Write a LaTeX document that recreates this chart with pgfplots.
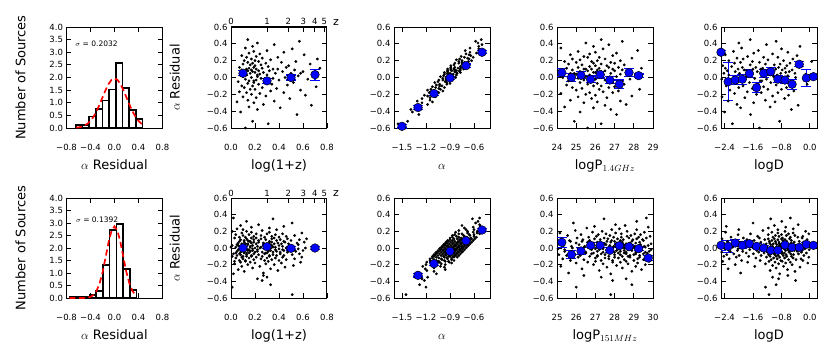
\documentclass[border=0pt]{standalone}
\usepackage{fontspec}
\setmainfont{DejaVu Sans}
\usepackage{pgfplots}
\usepackage{pgfplotstable}
\pgfplotsset{compat=1.18}

% top row: residual, log(1+z), alpha, logP(1.4GHz), logD
\pgfplotstableread{
r z a p d
-0.60 0.12 -1.48 25.6 -1.42
-0.55 0.31 -1.55 26.3 -2.18
-0.52 0.18 -1.43 24.9 -0.85
-0.44 0.55 -1.29 27.1 -1.67
-0.41 0.08 -1.37 25.2 -2.40
-0.38 0.22 -1.39 26.8 -0.52
-0.36 0.41 -1.26 25.9 -1.95
-0.35 0.15 -1.28 24.4 -1.12
-0.33 0.67 -1.31 26.5 -0.33
-0.32 0.27 -1.18 27.6 -2.05
-0.30 0.19 -1.25 25.4 -1.58
-0.29 0.05 -1.12 26.1 -0.98
-0.28 0.36 -1.31 27.3 -2.30
-0.27 0.14 -1.15 24.7 -1.25
-0.25 0.49 -1.25 25.8 -0.71
-0.24 0.21 -1.15 26.6 -1.83
-0.23 0.10 -1.08 25.1 -2.47
-0.22 0.29 -1.18 27.9 -1.05
-0.21 0.62 -1.22 26.0 -0.60
-0.20 0.17 -1.10 25.5 -1.50
-0.19 0.24 -1.12 24.2 -2.12
-0.18 0.44 -1.16 26.9 -0.90
-0.18 0.13 -1.04 25.7 -1.37
-0.17 0.07 -1.12 26.4 -1.76
-0.16 0.33 -0.99 27.2 -0.45
-0.15 0.58 -1.18 25.0 -2.25
-0.14 0.20 -1.02 26.2 -1.18
-0.14 0.16 -1.14 28.3 -0.80
-0.13 0.38 -1.04 25.3 -1.62
-0.12 0.11 -0.97 26.7 -2.00
-0.12 0.26 -1.08 24.8 -0.66
-0.11 0.71 -1.12 27.0 -1.30
-0.10 0.18 -1.00 25.9 -2.35
-0.10 0.09 -1.03 26.3 -1.88
-0.09 0.47 -1.07 24.5 -0.95
-0.08 0.23 -0.94 27.5 -1.45
-0.08 0.34 -1.03 25.6 -0.08
-0.07 0.14 -0.90 26.1 -2.08
-0.06 0.52 -1.09 25.2 -1.10
-0.06 0.19 -0.94 26.9 -1.70
-0.05 0.06 -1.05 27.4 -0.55
-0.05 0.28 -0.96 25.8 -2.22
-0.04 0.15 -0.89 24.6 -1.35
-0.03 0.40 -0.99 26.5 -0.88
-0.03 0.21 -1.04 25.4 -1.92
-0.02 0.64 -0.92 27.8 -2.48
-0.02 0.12 -0.95 26.0 -1.22
-0.01 0.25 -0.99 25.1 -0.75
-0.01 0.35 -0.87 26.7 -1.55
0.00 0.17 -0.95 24.3 -0.40
0.00 0.45 -0.83 26.2 -2.15
0.01 0.10 -1.02 25.5 -1.02
0.01 0.22 -0.87 27.1 -1.80
0.02 0.56 -0.98 24.9 -0.62
-0.04 0.19 -0.95 26.6 -1.40
0.03 0.30 -0.82 25.7 -2.28
0.03 0.13 -0.93 28.1 -0.92
0.04 0.69 -0.97 26.4 -1.65
0.04 0.24 -0.86 25.0 -1.15
0.04 0.08 -0.89 27.3 -0.12
0.05 0.37 -0.93 25.3 -1.98
0.05 0.16 -0.81 26.8 -0.82
0.05 0.50 -0.90 24.7 -2.42
0.06 0.20 -0.77 26.0 -1.28
0.06 0.11 -0.97 27.6 -0.68
0.06 0.27 -0.82 25.9 -1.72
0.07 0.43 -0.93 26.3 -2.10
0.07 0.18 -0.84 25.2 -1.48
0.07 0.60 -0.78 24.1 -0.58
0.08 0.14 -0.88 26.5 -1.08
0.08 0.23 -0.93 27.0 -2.32
0.08 0.32 -0.82 25.6 -1.20
0.09 0.09 -0.84 26.1 -0.78
0.09 0.53 -0.89 24.8 -1.85
0.09 0.17 -0.77 27.4 -0.50
0.10 0.39 -0.85 25.4 -1.60
0.10 0.21 -0.73 26.9 -2.02
0.10 0.13 -0.93 25.8 -0.96
0.11 0.74 -0.77 26.2 -1.33
0.11 0.26 -0.89 28.4 -2.38
0.11 0.15 -0.80 24.5 -0.70
0.12 0.46 -0.73 26.7 -1.52
0.12 0.19 -0.84 25.1 -1.90
0.12 0.07 -0.89 27.2 -0.88
0.13 0.31 -0.77 25.7 -2.20
0.03 0.22 -0.90 26.4 -1.12
0.05 0.58 -0.93 24.9 -0.42
0.08 0.12 -0.78 27.7 -1.78
0.10 0.35 -0.85 25.5 -1.38
0.14 0.20 -0.69 26.0 -0.65
0.14 0.48 -0.89 26.6 -2.45
0.15 0.16 -0.73 25.3 -1.00
0.15 0.25 -0.85 27.5 -1.68
0.16 0.10 -0.75 24.6 -0.84
0.16 0.66 -0.69 26.3 -1.25
0.17 0.18 -0.79 25.9 -2.12
0.17 0.29 -0.84 27.0 -0.56
0.18 0.42 -0.72 25.0 -1.95
0.18 0.14 -0.75 26.8 -1.42
0.19 0.23 -0.79 24.4 0.05
0.19 0.54 -0.67 25.8 -1.62
0.20 0.11 -0.75 27.3 -2.28
0.20 0.20 -0.63 26.1 -0.74
0.21 0.33 -0.82 25.2 -1.18
0.22 0.17 -0.66 24.8 -1.88
0.22 0.72 -0.78 26.5 -0.48
0.23 0.26 -0.68 27.9 -2.05
0.24 0.13 -0.61 25.6 -1.30
0.24 0.39 -0.72 26.2 -0.90
0.25 0.21 -0.76 25.4 -1.75
0.26 0.09 -0.64 26.9 -0.36
0.27 0.61 -0.66 24.7 -2.38
0.28 0.24 -0.70 25.7 -1.05
0.29 0.15 -0.57 27.1 -1.58
0.30 0.44 -0.65 26.0 -0.62
0.31 0.19 -0.52 25.1 -2.15
0.32 0.30 -0.71 28.2 -1.45
0.34 0.51 -0.54 26.4 -0.80
0.35 0.12 -0.65 24.2 -1.92
0.37 0.18 -0.54 25.9 -0.28
0.39 0.36 -0.50 26.7 -1.22
0.41 0.22 -0.55 25.5 -2.00
0.43 0.57 -0.58 27.4 -0.95
0.45 0.14 -0.51 26.3 -1.68
}\toptab

% bottom row: residual, log(1+z), alpha, logP(151MHz), logD
\pgfplotstableread{
r z a p d
-0.56 0.51 -1.45 27.8 -1.15
-0.47 0.01 -1.20 26.0 -1.25
-0.44 0.33 -1.28 28.9 -0.95
-0.39 0.26 -1.22 27.9 -0.40
-0.37 0.22 -1.25 28.6 -0.88
-0.35 0.30 -1.18 27.3 -1.05
-0.33 0.27 -1.30 26.4 -0.62
-0.31 0.02 -1.07 27.8 -0.85
-0.30 0.27 -1.30 25.6 -1.95
-0.28 0.11 -1.10 28.9 -0.42
-0.27 0.39 -1.19 27.2 -1.12
-0.26 0.06 -0.96 29.4 -0.63
-0.25 0.33 -1.21 26.3 -2.30
-0.24 0.18 -1.10 28.4 -0.95
-0.23 0.45 -0.97 27.6 -0.28
-0.22 0.09 -1.24 29.1 -1.55
-0.22 0.24 -1.02 25.2 -0.74
-0.21 0.52 -1.09 28.1 -1.05
-0.20 0.14 -0.96 26.9 -0.50
-0.20 0.36 -1.20 29.6 -2.10
-0.19 0.03 -1.01 27.4 -0.88
-0.19 0.29 -1.11 28.7 -1.25
-0.18 0.20 -0.88 26.0 -0.06
-0.18 0.42 -1.14 29.2 -0.68
-0.17 0.08 -1.03 27.9 -1.75
-0.17 0.58 -0.91 28.3 -0.98
-0.17 0.16 -1.19 26.6 -0.55
-0.16 0.31 -0.96 29.8 -2.45
-0.16 0.12 -1.04 27.0 -1.15
-0.16 0.03 -0.92 28.6 -0.78
-0.15 0.28 -1.15 27.9 -0.20
-0.15 0.12 -0.97 25.7 -1.40
-0.15 0.40 -1.07 29.0 -0.82
-0.15 0.07 -0.85 27.3 -1.92
-0.14 0.34 -1.10 29.5 -0.39
-0.14 0.19 -1.00 26.4 -1.09
-0.14 0.46 -0.88 28.5 -0.60
-0.13 0.10 -1.15 27.7 -2.27
-0.13 0.25 -0.93 29.2 -0.92
-0.13 0.53 -1.01 25.3 -0.25
-0.12 0.15 -0.88 28.2 -1.52
-0.12 0.37 -1.12 27.0 -0.71
-0.12 0.04 -0.94 29.7 -1.02
-0.12 0.30 -1.04 27.5 -0.47
-0.11 0.21 -0.81 28.8 -2.07
-0.11 0.43 -1.07 26.1 -0.85
-0.11 0.09 -0.97 29.3 -1.22
-0.11 0.59 -0.85 28.0 -0.03
-0.10 0.17 -1.12 28.4 -0.65
-0.10 0.32 -0.90 26.7 -1.72
-0.10 0.13 -0.98 29.9 -0.95
-0.10 0.01 -0.86 27.1 -0.52
-0.10 0.26 -1.10 28.7 -2.42
-0.10 0.10 -0.92 27.7 -1.12
-0.09 0.38 -1.01 25.5 -0.75
-0.09 0.05 -0.79 28.8 -0.17
-0.09 0.32 -1.05 27.1 -1.37
-0.09 0.17 -0.95 29.3 -0.89
-0.09 0.44 -0.83 26.2 -1.99
-0.08 0.08 -1.10 28.3 -0.46
-0.08 0.23 -0.88 27.5 -1.16
-0.08 0.51 -0.96 29.0 -0.67
-0.08 0.13 -0.84 25.1 -2.34
-0.08 0.35 -1.08 28.0 -0.99
-0.07 0.02 -0.89 26.8 -0.32
-0.07 0.28 -0.99 29.5 -1.59
-0.07 0.19 -0.77 27.3 -0.78
-0.07 0.41 -1.03 28.6 -1.09
-0.07 0.07 -0.93 25.9 -0.54
-0.07 0.57 -0.81 29.1 -2.14
-0.06 0.15 -1.08 27.8 -0.92
-0.06 0.30 -0.86 28.2 -1.29
-0.06 0.11 -0.94 26.5 -0.10
-0.06 0.04 -0.82 29.7 -0.72
-0.06 0.29 -1.06 26.9 -1.79
-0.06 0.13 -0.88 28.5 -1.02
-0.05 0.41 -0.97 28.0 -0.59
-0.05 0.08 -0.75 25.8 -2.48
-0.05 0.35 -1.01 29.1 -1.19
-0.05 0.20 -0.91 27.4 -0.82
-0.05 0.47 -0.79 29.6 -0.24
-0.05 0.11 -1.07 26.5 -1.44
-0.05 0.26 -0.85 28.6 -0.79
-0.04 0.54 -0.92 27.8 -1.89
-0.04 0.16 -0.80 29.3 -0.36
-0.04 0.38 -1.04 25.4 -1.06
-0.04 0.05 -0.86 28.3 -0.57
-0.04 0.31 -0.96 27.1 -2.24
-0.04 0.22 -0.74 29.8 -0.89
-0.03 0.44 -0.99 27.6 -0.22
-0.03 0.10 -0.89 28.9 -1.49
-0.03 0.60 -0.77 26.2 -0.68
-0.03 0.18 -1.05 29.4 -0.99
-0.03 0.33 -0.83 28.1 -0.44
-0.03 0.14 -0.91 28.5 -2.04
-0.02 0.06 -0.78 26.8 -0.82
-0.02 0.31 -1.02 29.9 -1.19
-0.02 0.15 -0.84 27.2 -0.02
-0.02 0.43 -0.94 28.8 -0.62
-0.02 0.10 -0.72 27.6 -1.69
-0.02 0.37 -0.98 25.4 -0.92
-0.02 0.22 -0.88 28.7 -0.49
-0.01 0.49 -0.75 27.0 -2.39
-0.01 0.13 -1.03 29.2 -1.09
-0.01 0.28 -0.81 26.1 -0.72
-0.01 0.56 -0.89 28.2 -0.14
-0.01 0.18 -0.77 27.4 -1.34
-0.01 0.40 -1.01 28.9 -0.92
-0.01 0.07 -0.83 25.05 -2.02
0.00 0.33 -0.92 27.9 -0.49
0.00 0.24 -0.70 26.7 -1.19
0.00 0.46 -0.96 29.4 -0.70
0.00 0.12 -0.86 27.2 -2.37
0.00 0.62 -0.74 28.5 -1.02
0.00 0.20 -1.02 25.8 -0.35
0.01 0.35 -0.79 29.0 -1.62
0.01 0.16 -0.87 27.7 -0.81
0.01 0.00 -0.75 28.1 -1.12
0.01 0.25 -0.99 26.4 -0.57
0.01 0.09 -0.81 29.6 -2.17
0.01 0.37 -0.91 26.8 -0.95
0.01 0.04 -0.69 28.4 -1.32
0.02 0.31 -0.94 27.95 -0.13
0.02 0.16 -0.84 25.75 -0.75
0.02 0.43 -0.72 29.05 -1.82
0.02 0.07 -1.00 27.35 -1.05
0.02 0.22 -0.78 29.55 -0.62
0.02 0.50 -0.86 26.45 -2.47
0.02 0.12 -0.74 28.55 -1.22
0.03 0.34 -0.97 27.75 -0.85
0.03 0.01 -0.79 29.25 -0.27
0.03 0.27 -0.89 25.35 -1.47
0.03 0.18 -0.67 28.25 -0.83
0.03 0.40 -0.93 27.05 -1.93
0.03 0.06 -0.83 29.75 -0.40
0.04 0.56 -0.70 27.55 -1.10
0.04 0.14 -0.98 28.85 -0.61
0.04 0.29 -0.76 26.15 -2.28
0.04 0.10 -0.84 29.35 -0.93
0.04 0.05 -0.72 28.05 -0.26
0.04 0.30 -0.96 28.45 -1.53
0.05 0.14 -0.77 26.75 -0.72
0.05 0.42 -0.87 29.9 -1.03
0.05 0.09 -0.65 27.15 -0.48
0.05 0.36 -0.91 28.75 -2.08
0.05 0.21 -0.81 27.5 -0.86
0.05 0.48 -0.69 25.3 -1.23
0.05 0.12 -0.97 28.6 -0.04
0.06 0.27 -0.74 26.9 -0.66
0.06 0.55 -0.82 29.1 -1.73
0.06 0.17 -0.70 26.0 -0.96
0.06 0.39 -0.94 28.1 -0.53
0.06 0.06 -0.76 27.3 -2.43
0.06 0.32 -0.86 28.8 -1.13
0.07 0.23 -0.63 25.1 -0.76
0.07 0.45 -0.89 27.8 -0.18
0.07 0.11 -0.79 26.6 -1.38
0.07 0.61 -0.67 29.3 -0.87
0.07 0.19 -0.95 27.1 -1.97
0.07 0.34 -0.73 28.4 -0.44
0.08 0.15 -0.80 25.7 -1.14
0.08 0.07 -0.68 28.9 -0.65
0.08 0.32 -0.92 27.6 -2.32
0.08 0.16 -0.74 28.0 -0.97
0.08 0.44 -0.84 26.3 -0.30
0.09 0.11 -0.61 29.5 -1.57
0.09 0.38 -0.87 26.7 -0.76
0.09 0.23 -0.77 28.3 -1.07
0.09 0.50 -0.65 27.85 -0.52
0.09 0.14 -0.93 25.65 -2.12
0.10 0.29 -0.70 28.95 -0.90
0.10 0.57 -0.78 27.25 -1.27
0.10 0.19 -0.66 29.45 -0.08
0.10 0.41 -0.90 26.35 -0.70
0.10 0.08 -0.72 28.45 -1.77
0.11 0.34 -0.81 27.65 -1.00
0.11 0.25 -0.59 29.15 -0.57
0.11 0.47 -0.85 25.25 -2.47
0.11 0.13 -0.75 28.15 -1.17
0.11 0.63 -0.63 26.95 -0.80
0.12 0.21 -0.90 29.65 -0.22
0.12 0.36 -0.68 27.45 -1.42
0.12 0.17 -0.76 28.75 -0.77
0.12 0.03 -0.64 26.05 -1.87
0.13 0.28 -0.87 29.25 -0.34
0.13 0.12 -0.69 27.95 -1.04
0.13 0.40 -0.79 28.35 -0.55
0.13 0.07 -0.57 26.65 -2.22
0.14 0.34 -0.82 29.85 -0.87
0.14 0.19 -0.72 27.05 -0.20
0.14 0.46 -0.60 28.65 -1.47
0.15 0.10 -0.87 27.75 -0.66
0.15 0.25 -0.65 25.55 -0.97
0.15 0.53 -0.73 28.85 -0.42
0.16 0.15 -0.60 27.15 -2.02
0.16 0.37 -0.84 29.35 -0.80
0.16 0.04 -0.66 26.25 -1.17
0.17 0.30 -0.75 28.35 -0.03
0.17 0.21 -0.53 27.55 -0.60
0.17 0.43 -0.79 29.05 -1.67
0.18 0.09 -0.68 25.15 -0.90
0.18 0.59 -0.56 28.05 -0.47
0.19 0.17 -0.83 26.85 -2.37
0.19 0.32 -0.61 29.55 -1.07
0.20 0.13 -0.68 27.35 -0.70
0.20 0.01 -0.56 28.65 -0.12
0.21 0.26 -0.79 25.95 -1.32
0.22 0.10 -0.60 29.15 -0.90
0.22 0.38 -0.70 27.85 -2.00
0.23 0.05 -0.52 28.25 -0.47
0.24 0.32 -0.72 26.55 -1.17
0.25 0.17 -0.61 29.75 -0.68
0.26 0.44 -0.52 26.95 -2.35
0.27 0.08 -0.75 28.55 -1.00
0.28 0.23 -0.53 28.05 -0.33
0.30 0.51 -0.58 25.85 -1.60
0.32 0.13 -0.55 29.15 -0.79
0.35 0.35 -0.62 27.45 -1.10
0.36 0.02 -0.53 29.65 -0.55
}\bottab

\pgfplotsset{
  pan/.style={
    scale only axis, width=96pt, anchor=south west,
    tick align=inside, tick pos=both,
    axis line style={line width=1pt},
    every tick/.style={black, line width=0.9pt},
    major tick length=5pt,
    tick label style={font=\fontsize{8.5}{10}\selectfont},
    label style={font=\fontsize{13}{15}\selectfont},
    xticklabel style={anchor=base, yshift=-22pt},
    xlabel style={at={(axis description cs:0.5,0)}, anchor=base, yshift=-41pt},
  },
  res/.style={pan, ymin=-0.6, ymax=0.6,
    ytick={-0.6,-0.4,-0.2,0,0.2,0.4,0.6},
    yticklabels={−0.6,−0.4,−0.2,0.0,0.2,0.4,0.6}},
  hist/.style={pan, xmin=-0.8, xmax=0.8, ymin=0, ymax=4,
    xtick={-0.8,-0.4,0,0.4,0.8}, xticklabels={−0.8,−0.4,0.0,0.4,0.8},
    ytick={0,0.5,1,1.5,2,2.5,3,3.5,4},
    yticklabels={0.0,0.5,1.0,1.5,2.0,2.5,3.0,3.5,4.0},
    xlabel={$\alpha$ Residual}, ylabel={Number of Sources},
    ylabel style={at={(axis description cs:-0.479,0.5)}, anchor=center}},
  zpan/.style={res, xmin=0, xmax=0.8, xtick pos=bottom,
    xtick={0,0.2,0.4,0.6,0.8}, xticklabels={0.0,0.2,0.4,0.6,0.8},
    xlabel={log(1+z)}, ylabel={$\alpha$ Residual},
    ylabel style={at={(axis description cs:-0.585,0.5)}, anchor=center}},
  ztop/.style={scale only axis, width=96pt, anchor=south west,
    xmin=0, xmax=0.8, ymin=-0.6, ymax=0.6,
    axis x line*=top, axis y line=none, tick align=inside,
    axis line style={line width=1pt},
    every tick/.style={black, line width=0.9pt}, major tick length=5pt,
    xtick={0,0.30103,0.47712,0.60206,0.69897,0.77815},
    xticklabels={0,1,2,3,4,5},
    tick label style={font=\fontsize{8.5}{10}\selectfont},
    xticklabel style={anchor=base, yshift=2pt}},
  apan/.style={res, xmin=-1.6, xmax=-0.4,
    xtick={-1.5,-1.2,-0.9,-0.6}, xticklabels={−1.5,−1.2,−0.9,−0.6},
    xlabel={$\alpha$}},
  dpan/.style={res, xmin=-2.5, xmax=0.2,
    xtick={-2.4,-1.6,-0.8,0}, xticklabels={−2.4,−1.6,−0.8,0.0},
    xlabel={logD}},
  dots/.style={only marks, mark=*, mark size=1.2pt, black},
  bins/.style={only marks, mark=*, mark size=4.3pt,
    mark options={fill=blue, draw=black, line width=0.5pt},
    error bars/y dir=both, error bars/y explicit,
    error bars/error bar style={blue, line width=1.1pt},
    error bars/error mark options={rotate=90, blue, mark size=5pt, line width=1.1pt}},
  bars/.style={ybar interval, draw=black, fill=white, line width=1.6pt},
  gauss/.style={red, line width=1.7pt, dash pattern=on 6pt off 3.5pt},
}

\begin{document}
\begin{tikzpicture}
\useasboundingbox (0,0) rectangle (830pt,360pt);

% ---------------- top row ----------------
\begin{axis}[hist, at={(66.5pt,232pt)}, height=101pt]
\addplot[bars] coordinates {(-0.643,0.12) (-0.532,0.12) (-0.421,0.46) (-0.310,0.75)
  (-0.199,1.09) (-0.088,1.52) (0.023,2.58) (0.134,1.59) (0.245,0.72) (0.357,0.36) (0.468,0.36)};
\addplot[gauss] coordinates {(-0.64,0.014) (-0.60,0.025) (-0.55,0.050) (-0.50,0.095)
  (-0.45,0.169) (-0.40,0.283) (-0.35,0.445) (-0.30,0.660) (-0.25,0.921) (-0.20,1.209)
  (-0.15,1.495) (-0.10,1.739) (-0.05,1.905) (0,1.963) (0.05,1.905) (0.10,1.739)
  (0.15,1.495) (0.20,1.209) (0.25,0.921) (0.30,0.660) (0.35,0.445) (0.40,0.283)
  (0.45,0.169) (0.468,0.138)};
\node[anchor=base west, font=\fontsize{7.5}{9}\selectfont] at (axis cs:-0.71,3.23) {$\sigma$ = 0.2032};
\end{axis}

\begin{axis}[zpan, at={(231pt,232pt)}, height=101pt]
\addplot[dots] table[x=z, y=r] {\toptab};
\addplot[bins] coordinates {(0.1,0.05) +- (0,0.03) (0.3,-0.04) +- (0,0.03)
  (0.5,0.0) +- (0,0.03) (0.7,0.034) +- (0,0.065)};
\end{axis}
\begin{axis}[ztop, at={(231pt,232pt)}, height=101pt]
\addplot[draw=none] coordinates {(0,0)};
\end{axis}
\node[anchor=base, font=\fontsize{11}{13}\selectfont] at (336pt,335pt) {z};

\begin{axis}[apan, at={(394pt,232pt)}, height=101pt]
\addplot[dots] table[x=a, y=r] {\toptab};
\addplot[bins] coordinates {(-1.5,-0.58) +- (0,0.02) (-1.3,-0.357) +- (0,0.02)
  (-1.1,-0.19) +- (0,0.02) (-0.9,-0.006) +- (0,0.02) (-0.7,0.141) +- (0,0.02)
  (-0.5,0.30) +- (0,0.02)};
\end{axis}

\begin{axis}[res, at={(557pt,232pt)}, height=101pt, xmin=24, xmax=29,
  xtick={24,25,26,27,28,29}, xticklabels={24,25,26,27,28,29},
  xlabel={logP$_{1.4GHz}$}]
\addplot[dots] table[x=p, y=r] {\toptab};
\addplot[bins] coordinates {(24.25,0.058) +- (0,0.05) (24.75,0.0) +- (0,0.05)
  (25.25,0.026) +- (0,0.04) (25.75,-0.022) +- (0,0.04) (26.25,0.034) +- (0,0.04)
  (26.75,-0.03) +- (0,0.04) (27.25,-0.08) +- (0,0.05) (27.75,0.058) +- (0,0.05)
  (28.25,0.022) +- (0,0.02)};
\end{axis}

\begin{axis}[dpan, at={(721pt,232pt)}, height=101pt]
\addplot[dots] table[x=d, y=r] {\toptab};
\addplot[bins] coordinates {(-2.5,0.30) +- (0,0.02) (-2.3,-0.05) +- (0,0.225)
  (-2.1,-0.03) +- (0,0.05) (-1.9,-0.02) +- (0,0.06) (-1.7,0.046) +- (0,0.05)
  (-1.5,-0.12) +- (0,0.06) (-1.3,0.05) +- (0,0.05) (-1.1,0.07) +- (0,0.05)
  (-0.9,-0.02) +- (0,0.04) (-0.7,-0.03) +- (0,0.04) (-0.5,-0.08) +- (0,0.06)
  (-0.3,0.157) +- (0,0.03) (-0.1,-0.006) +- (0,0.10) (0.1,0.01) +- (0,0.02)};
\end{axis}

% ---------------- bottom row ----------------
\begin{axis}[hist, at={(66.5pt,62pt)}, height=100pt]
\addplot[bars] coordinates {(-0.753,0.03) (-0.641,0.03) (-0.529,0.03) (-0.417,0.12)
  (-0.305,0.27) (-0.193,1.33) (-0.081,2.71) (0.031,2.97) (0.143,1.17) (0.255,0.31) (0.367,0.31)};
\addplot[gauss] coordinates {(-0.75,0.0) (-0.65,0.0001) (-0.60,0.0007) (-0.50,0.0045)
  (-0.45,0.015) (-0.40,0.046) (-0.35,0.121) (-0.30,0.281) (-0.25,0.571) (-0.20,1.017)
  (-0.15,1.603) (-0.10,2.214) (-0.05,2.687) (0,2.866) (0.05,2.687) (0.10,2.214)
  (0.15,1.603) (0.20,1.017) (0.25,0.571) (0.30,0.281) (0.35,0.121) (0.367,0.089)};
\node[anchor=base west, font=\fontsize{7.5}{9}\selectfont] at (axis cs:-0.70,3.02) {$\sigma$ = 0.1392};
\end{axis}

\begin{axis}[zpan, at={(231pt,62pt)}, height=100pt]
\addplot[dots] table[x=z, y=r] {\bottab};
\addplot[bins] coordinates {(0.1,0.0) +- (0,0.02) (0.3,0.016) +- (0,0.02)
  (0.5,-0.004) +- (0,0.02) (0.7,0.0) +- (0,0.02)};
\end{axis}
\begin{axis}[ztop, at={(231pt,62pt)}, height=100pt]
\addplot[draw=none] coordinates {(0,0)};
\end{axis}
\node[anchor=base, font=\fontsize{11}{13}\selectfont] at (336pt,164pt) {z};

\begin{axis}[apan, at={(394pt,62pt)}, height=100pt]
\addplot[dots] table[x=a, y=r] {\bottab};
\addplot[bins] coordinates {(-1.3,-0.328) +- (0,0.02) (-1.1,-0.188) +- (0,0.02)
  (-0.9,-0.04) +- (0,0.02) (-0.7,0.088) +- (0,0.02) (-0.5,0.216) +- (0,0.02)};
\end{axis}

\begin{axis}[res, at={(557pt,62pt)}, height=100pt, xmin=25, xmax=30,
  xtick={25,26,27,28,29,30}, xticklabels={25,26,27,28,29,30},
  xlabel={logP$_{151MHz}$}]
\addplot[dots] table[x=p, y=r] {\bottab};
\addplot[bins] coordinates {(25.25,0.068) +- (0,0.06) (25.75,-0.08) +- (0,0.05)
  (26.25,-0.036) +- (0,0.04) (26.75,0.032) +- (0,0.03) (27.25,0.032) +- (0,0.03)
  (27.75,-0.028) +- (0,0.03) (28.25,0.028) +- (0,0.02) (28.75,0.016) +- (0,0.02)
  (29.25,-0.008) +- (0,0.02) (29.75,-0.12) +- (0,0.03)};
\end{axis}

\begin{axis}[dpan, at={(721pt,62pt)}, height=100pt]
\addplot[dots] table[x=d, y=r] {\bottab};
\addplot[bins] coordinates {(-2.5,0.032) +- (0,0.06) (-2.3,0.02) +- (0,0.07)
  (-2.1,0.06) +- (0,0.04) (-1.9,0.032) +- (0,0.04) (-1.7,0.052) +- (0,0.04)
  (-1.5,0.02) +- (0,0.03) (-1.3,0.0) +- (0,0.03) (-1.1,-0.028) +- (0,0.02)
  (-0.9,-0.028) +- (0,0.02) (-0.7,0.036) +- (0,0.02) (-0.5,0.008) +- (0,0.02)
  (-0.3,0.008) +- (0,0.02) (-0.1,0.044) +- (0,0.02) (0.1,0.032) +- (0,0.03)};
\end{axis}
\end{tikzpicture}
\end{document}
